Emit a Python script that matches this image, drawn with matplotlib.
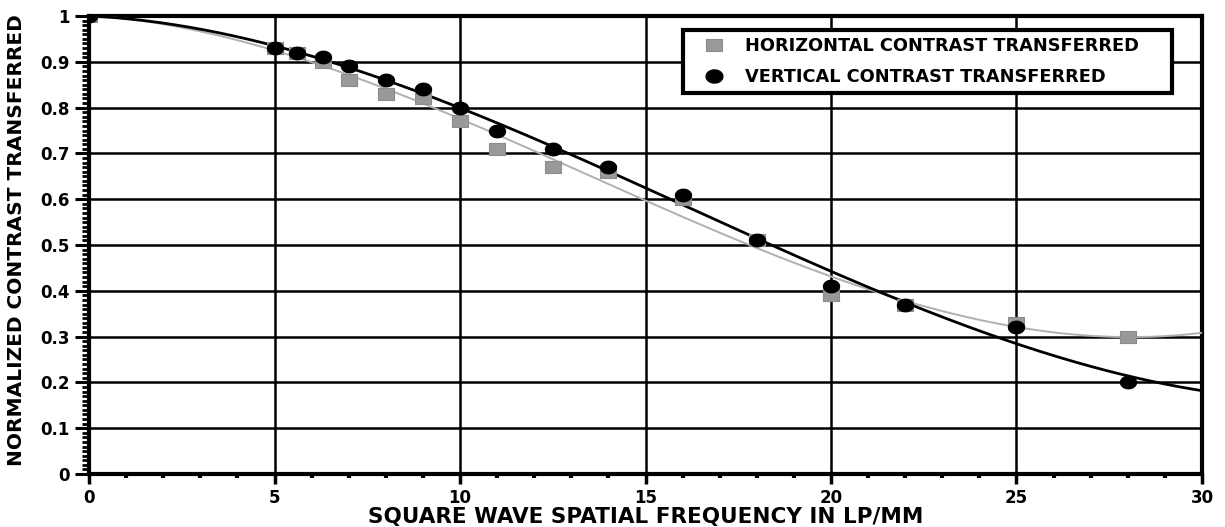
import matplotlib
matplotlib.use("Agg")
import matplotlib.pyplot as plt
import numpy as np
from matplotlib.ticker import MultipleLocator
from matplotlib.path import Path

plt.rcParams['font.family'] = ['DejaVu Sans']
plt.rcParams['font.weight'] = 'bold'

# spatial frequency (lp/mm) of each measurement
freq = [0, 5, 5.6, 6.3, 7, 8, 9, 10, 11, 12.5, 14, 16, 18, 20, 22, 25, 28]
# normalized contrast
horiz = [1.0, 0.93, 0.92, 0.90, 0.86, 0.83, 0.82, 0.77, 0.71, 0.67, 0.66, 0.60, 0.51, 0.39, 0.37, 0.33, 0.30]
vert = [1.0, 0.93, 0.92, 0.91, 0.89, 0.86, 0.84, 0.80, 0.75, 0.71, 0.67, 0.61, 0.51, 0.41, 0.37, 0.32, 0.20]
ytick_labels = ['0', '0.1', '0.2', '0.3', '0.4', '0.5', '0.6', '0.7', '0.8', '0.9', '1']

# slightly flattened marker shapes, like the scanned plot
t = np.linspace(0, 2 * np.pi, 41)
ellipse = Path(np.column_stack([np.cos(t), 0.78 * np.sin(t)]), closed=True)
rect = Path([(-1, -0.72), (1, -0.72), (1, 0.72), (-1, 0.72), (-1, -0.72)], closed=True)

fig = plt.figure(figsize=(12.25, 5.27), dpi=100)
ax = fig.add_axes([0.0727, 0.1006, 0.9085, 0.869])

# fitted curves
xs = np.linspace(0, 30, 300)
ph = np.polyfit(freq, horiz, 3)
pv = np.polyfit(freq, vert, 3)
ax.plot(xs, np.polyval(ph, xs), color='#b0b0b0', lw=1.4, zorder=3)
ax.plot(xs, np.polyval(pv, xs), color='black', lw=2.0, zorder=4)

ax.plot(freq, horiz, ls='none', marker=rect, color='#999999', ms=11.5, mec='#8c8c8c', mew=0.8,
        zorder=5, label='HORIZONTAL CONTRAST TRANSFERRED')
ax.plot(freq, vert, ls='none', marker=ellipse, color='black', ms=11.5, zorder=6,
        label='VERTICAL CONTRAST TRANSFERRED')

ax.set_xlim(0, 30)
ax.set_ylim(0, 1)
ax.xaxis.set_major_locator(MultipleLocator(5))
ax.xaxis.set_minor_locator(MultipleLocator(1))
ax.yaxis.set_minor_locator(MultipleLocator(0.01))
ax.set_yticks(np.arange(0, 1.01, 0.1))
ax.set_yticklabels(ytick_labels)

ax.grid(True, which='major', color='black', lw=1.8)
for s in ax.spines.values():
    s.set_linewidth(3)

ax.tick_params(axis='y', which='major', direction='out', length=10, width=2.2, labelsize=12, pad=4)
ax.tick_params(axis='y', which='minor', direction='out', length=5, width=2)
ax.tick_params(axis='x', which='major', direction='out', length=7, width=2.5, labelsize=12, pad=4)
ax.tick_params(axis='x', which='minor', direction='out', length=3, width=3)
for lab in ax.get_xticklabels() + ax.get_yticklabels():
    lab.set_fontweight('bold')

ax.set_xlabel('SQUARE WAVE SPATIAL FREQUENCY IN LP/MM', fontsize=15.5, fontweight='bold', labelpad=0)
ax.set_ylabel('NORMALIZED CONTRAST TRANSFERRED', fontsize=14.5, fontweight='bold')
ax.yaxis.set_label_coords(-0.057, 0.51)

leg = ax.legend(loc='upper left', bbox_to_anchor=(0.534, 0.5, 0.439, 0.469), mode='expand',
                borderaxespad=0, fancybox=False, framealpha=1, edgecolor='black',
                borderpad=0.4, labelspacing=0.7, handlelength=2.6, handletextpad=0.45,
                markerscale=1.05, prop={'weight': 'bold', 'size': 12.8})
leg.get_frame().set_linewidth(3)

fig.savefig('out.png', dpi=100)
